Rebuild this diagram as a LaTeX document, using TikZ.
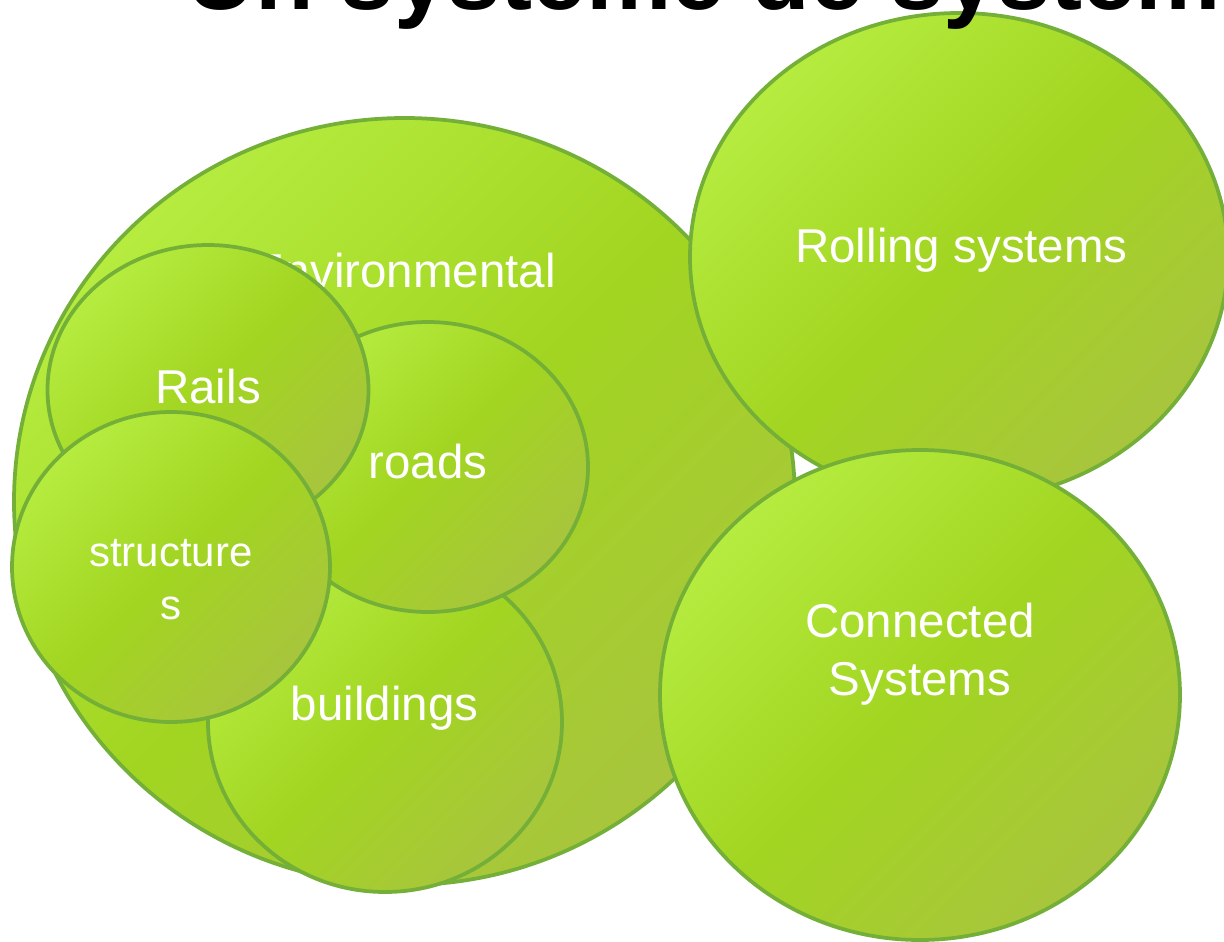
\documentclass[tikz,border=0pt]{standalone}
\usepackage{fontspec}
\setmainfont{Liberation Sans}
\usetikzlibrary{shapes.geometric}
\definecolor{gtop}{HTML}{B5EC3F}
\definecolor{gmid}{HTML}{A2D521}
\definecolor{gbot}{HTML}{A8C53D}
\definecolor{gline}{HTML}{74AF38}
\begin{document}
\begin{tikzpicture}[x=1pt,y=-1pt,
  bubble/.style={ellipse, draw=gline, line width=3.75pt, top color=gtop, bottom color=gbot, middle color=gmid, shading angle=45, inner sep=0pt, outer sep=0pt},
  lbl/.style={text=white, font=\fontsize{47.5}{58}\selectfont, align=center, inner sep=0pt},
  slbl/.style={text=white, font=\fontsize{42}{53}\selectfont, align=center, inner sep=0pt},
  titlestyle/.style={text=black, font=\fontsize{96}{110}\selectfont\bfseries, inner sep=0pt}]
\useasboundingbox (0,0) rectangle (1224,942);
\clip (0,0) rectangle (1224,942);
% environmental
\node[bubble, minimum width=781pt, minimum height=767pt] (env) at (404.5,501.5) {};
\node[lbl, anchor=base] (envl) at (404,287) {Environmental};
% buildings
\node[bubble, minimum width=354pt, minimum height=340pt] (bld) at (385,722) {};
\node[lbl, anchor=base] (bldl) at (384.5,720) {buildings};
% roads
\node[bubble, minimum width=320pt, minimum height=290pt] (roads) at (428,467) {};
\node[lbl, anchor=base] (roadsl) at (428,478) {roads};
% rails
\node[bubble, minimum width=321pt, minimum height=290pt] (rails) at (208,390) {};
\node[lbl, anchor=base] (railsl) at (208,403) {Rails};
% structures
\node[bubble, minimum width=318pt, minimum height=310pt] (str) at (171,567) {};
\node[slbl] (strl) at (171,580) {structure\\s};
% rolling systems
\node[bubble, minimum width=538pt, minimum height=488pt] (roll) at (959,257) {};
\node[lbl, anchor=base] (rolll) at (961.5,262) {Rolling systems};
% connected systems
\node[bubble, minimum width=520pt, minimum height=490pt] (conn) at (920,695) {};
\node[lbl] (connl) at (920,654.5) {Connected\\Systems};
% title
\node[titlestyle, anchor=base west] (title) at (186,10) {Un système de systèmes};
\end{tikzpicture}
\end{document}
